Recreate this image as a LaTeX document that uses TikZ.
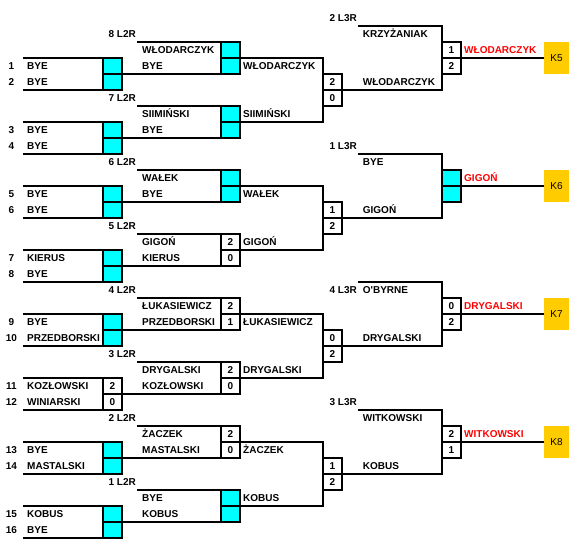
\documentclass[tikz,border=0pt]{standalone}
\usepackage{fontspec}
\setmainfont{Liberation Sans}
\usetikzlibrary{positioning}
\definecolor{clrC}{RGB}{0,255,255}
\definecolor{clrK}{RGB}{255,204,0}
\definecolor{clrW}{RGB}{255,0,0}
\newcommand{\namefont}{\bfseries\fontsize{10}{12}\selectfont}
\tikzset{
  bar/.style={line width=2.5pt},
  cell/.style={rectangle,draw,line width=2.5pt,minimum width=19pt,minimum height=16pt,
    inner sep=0pt,outer sep=0pt,font=\namefont,text height=7.2pt,text depth=0pt},
  player/.style={anchor=west,inner sep=0pt,font=\namefont,text height=7.2pt,text depth=0pt},
  seed/.style={inner sep=0pt,font=\namefont,text height=7.2pt,text depth=0pt},
  slot/.style={player,anchor=east},
  winner/.style={player,text=clrW},
  place/.style={rectangle,fill=clrK,minimum width=25pt,minimum height=32pt,inner sep=0pt,
    outer sep=0pt,font=\fontsize{10}{12}\selectfont}
}
\begin{document}
\begin{tikzpicture}[x=1pt,y=-1pt]
  \useasboundingbox (0,0) rectangle (582,549);
  % first round
  \foreach \k/\na/\nb/\f/\sa/\sb in {1/BYE/BYE/clrC/{}/{},2/BYE/BYE/clrC/{}/{},
      3/BYE/BYE/clrC/{}/{},4/KIERUS/BYE/clrC/{}/{},5/BYE/PRZEDBORSKI/clrC/{}/{},
      6/KOZŁOWSKI/WINIARSKI/white/2/0,7/BYE/MASTALSKI/clrC/{}/{},8/KOBUS/BYE/clrC/{}/{}}{
    \pgfmathsetmacro\y{58+64*(\k-1)}
    \pgfmathtruncatemacro\pa{2*\k-1}
    \pgfmathtruncatemacro\pb{2*\k}
    \coordinate (as\k) at (23,\y);
    \coordinate (ae\k) at (23,\y+32);
    \node[cell,fill=\f] (at\k) at (112.5,\y+8) {\sa};
    \node[cell,fill=\f,below=0pt of at\k] (ab\k) {\sb};
    \draw[bar] (as\k) -- (at\k.north west);
    \draw[bar] (ae\k) -- (ab\k.south west);
    \node[seed] (sa\k) at (11.5,\y+8) {\pa};
    \node[seed] (sb\k) at (11.5,\y+24) {\pb};
    \node[player] (na\k) at (27,\y+8) {\na};
    \node[player] (nb\k) at (27,\y+24) {\nb};
  }
  % second round
  \foreach \k/\lab/\na/\nb/\f/\sa/\sb in {1/8/WŁODARCZYK/BYE/clrC/{}/{},
      2/7/SIIMIŃSKI/BYE/clrC/{}/{},3/6/WAŁEK/BYE/clrC/{}/{},4/5/GIGOŃ/KIERUS/white/2/0,
      5/4/ŁUKASIEWICZ/PRZEDBORSKI/white/2/1,6/3/DRYGALSKI/KOZŁOWSKI/white/2/0,
      7/2/ŻACZEK/MASTALSKI/white/2/0,8/1/BYE/KOBUS/clrC/{}/{}}{
    \pgfmathsetmacro\y{42+64*(\k-1)}
    \coordinate (bs\k) at (137,\y);
    \node[cell,fill=\f] (bt\k) at (230.5,\y+8) {\sa};
    \node[cell,fill=\f,below=0pt of bt\k] (bb\k) {\sb};
    \draw[bar] (bs\k) -- (bt\k.north west);
    \draw[bar] (at\k.south east) -- (bb\k.south west);
    \node[slot] (bl\k) at (136,\y-8) {\lab\ L2R};
    \node[player] (ma\k) at (142,\y+8) {\na};
    \node[player] (mb\k) at (142,\y+24) {\nb};
  }
  % third round
  \foreach \j/\na/\nb/\sa/\sb in {1/WŁODARCZYK/SIIMIŃSKI/2/0,2/WAŁEK/GIGOŃ/1/2,
      3/ŁUKASIEWICZ/DRYGALSKI/0/2,4/ŻACZEK/KOBUS/1/2}{
    \pgfmathsetmacro\y{58+128*(\j-1)}
    \pgfmathtruncatemacro\u{2*\j-1}
    \pgfmathtruncatemacro\v{2*\j}
    \node[cell,fill=white] (ct\j) at (332.5,\y+24) {\sa};
    \node[cell,fill=white,below=0pt of ct\j] (cb\j) {\sb};
    \draw[bar] (bt\u.south east) -| (ct\j.north west);
    \draw[bar] (bt\v.south east) -| (cb\j.south west);
    \node[player] (pa\j) at (243,\y+8) {\na};
    \node[player] (pb\j) at (243,\y+56) {\nb};
  }
  % fourth round and places
  \foreach \j/\lab/\ly/\na/\nb/\f/\sa/\sb/\w in {1/2/-8/KRZYŻANIAK/WŁODARCZYK/white/1/2/WŁODARCZYK,
      2/1/-8/BYE/GIGOŃ/clrC/{}/{}/GIGOŃ,3/4/8/O\textquotesingle BYRNE/DRYGALSKI/white/0/2/DRYGALSKI,
      4/3/-8/WITKOWSKI/KOBUS/white/2/1/WITKOWSKI}{
    \pgfmathsetmacro\y{26+128*(\j-1)}
    \pgfmathtruncatemacro\q{\j+4}
    \coordinate (ds\j) at (358,\y);
    \node[cell,fill=\f] (dt\j) at (451.5,\y+24) {\sa};
    \node[cell,fill=\f,below=0pt of dt\j] (db\j) {\sb};
    \node[place] (k\j) at (556.5,\y+32) {K\q};
    \draw[bar] (ds\j) -| (dt\j.north west);
    \draw[bar] (ct\j.south east) -| (db\j.south west);
    \draw[bar] (dt\j.south east) -- (k\j.west);
    \node[slot] (dl\j) at (357,\y+\ly) {\lab\ L3R};
    \node[player] (qa\j) at (362.7,\y+8) {\na};
    \node[player] (qb\j) at (362.7,\y+56) {\nb};
    \node[winner] (w\j) at (464,\y+24) {\w};
  }
\end{tikzpicture}
\end{document}
